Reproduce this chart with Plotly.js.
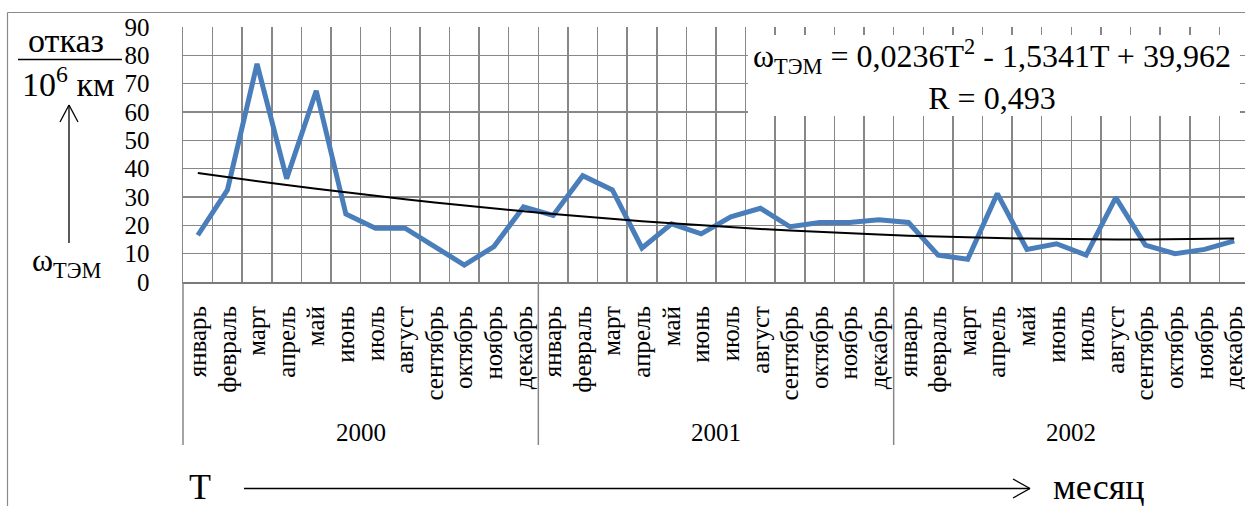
<!DOCTYPE html>
<html>
<head>
<meta charset="utf-8">
<script src="https://cdn.plot.ly/plotly-3.0.1.min.js"></script>
<style>
  html, body { margin: 0; padding: 0; background: #fff; overflow: hidden; }
  #chart { width: 1245px; height: 506px; }
</style>
</head>
<body>
<div id="chart"></div>
<script>
// Monthly failure rate of traction electric motors, 2000–2002
const months = ['январь', 'февраль', 'март', 'апрель', 'май', 'июнь',
                'июль', 'август', 'сентябрь', 'октябрь', 'ноябрь', 'декабрь'];
const years = ['2000', '2001', '2002'];
const failureRate = [
  16.5, 32.5, 77, 36.5, 67.5, 24, 19, 19, 12.5, 6, 12.5, 26.5,
  23.5, 37.5, 32.5, 12, 20.5, 17, 23, 26, 19.5, 21, 21, 22,
  21, 9.5, 8, 31.2, 11.5, 13.5, 9.5, 29.8, 13, 10, 11.5, 14.5
];
// polynomial trend: a*T^2 + b*T + c
const trendCoef = [0.0236, -1.5341, 39.962];
const trendLabel = 'ω<sub>ТЭМ</sub> = 0,0236T<sup>2</sup> - 1,5341T + 39,962<br>R = 0,493';

const FONT = 'Times New Roman, Liberation Serif, DejaVu Serif, serif';
const W = 1245, H = 506;
const M = { l: 183, r: 0, t: 27, b: 224 };
const plotW = W - M.l - M.r, plotH = H - M.t - M.b;
const xRange = [-0.5, 35.365];

// pixel -> paper coordinates
const PX = px => (px - M.l) / plotW;
const PY = py => (H - M.b - py) / plotH;
const XV = v => (v - xRange[0]) / (xRange[1] - xRange[0]);

const idx = failureRate.map((_, i) => i);
const trend = idx.map(i => {
  const T = i + 1;
  return trendCoef[0] * T * T + trendCoef[1] * T + trendCoef[2];
});
const tickText = years.flatMap(() => months);

const GRID = '#878787';

const traces = [
  {
    x: idx, y: failureRate, type: 'scatter', mode: 'lines',
    line: { color: '#4a7ebb', width: 5 }, hoverinfo: 'skip'
  },
  {
    x: idx, y: trend, type: 'scatter', mode: 'lines',
    line: { color: '#000', width: 2 }, hoverinfo: 'skip'
  }
];

const shapes = [];
const line = (x0, y0, x1, y1, color, width) => shapes.push({
  type: 'line', xref: 'paper', yref: 'paper',
  x0: PX(x0), y0: PY(y0), x1: PX(x1), y1: PY(y1),
  line: { color, width }
});

// outer chart frame
line(7.5, 12.5, W + 2, 12.5, '#8a8a8a', 1.2);
line(7.5, 12.5, 7.5, H + 2, '#8a8a8a', 1.2);

// year group dividers under the category axis
for (let k = 0; k <= years.length; k++) {
  const xv = k * months.length - 0.5;
  shapes.push({
    type: 'line', xref: 'paper', yref: 'paper',
    x0: XV(xv), x1: XV(xv), y0: 0, y1: PY(445),
    line: { color: GRID, width: 1.5 }
  });
}

// fraction bar and arrows of the axis captions
line(18, 59.5, 122, 59.5, '#000', 1.5);
line(69, 243, 69, 105, '#000', 1.3);
line(60, 122, 69, 105, '#000', 1.3);
line(78, 122, 69, 105, '#000', 1.3);
line(244, 488.5, 1030, 488.5, '#000', 1.3);
line(1013, 479, 1030, 488.5, '#000', 1.3);
line(1013, 498, 1030, 488.5, '#000', 1.3);

// white panel behind the trend equation
shapes.push({
  type: 'rect', xref: 'paper', yref: 'paper', layer: 'above',
  x0: PX(748), x1: PX(1240), y0: PY(116), y1: PY(35),
  fillcolor: '#fff', line: { width: 0 }
});

const ann = (text, x, y, size, extra) => Object.assign({
  text, xref: 'paper', yref: 'paper', x: PX(x), y: PY(y),
  xanchor: 'center', yanchor: 'middle', showarrow: false,
  font: { family: FONT, size, color: '#000' }
}, extra || {});

const annotations = [
  ann('отказ', 66, 40, 34),
  ann('10<sup>6</sup> км', 68, 82, 34),
  ann('ω<sub>ТЭМ</sub>', 67, 262, 32),
  ann('T', 200, 487, 36),
  ann('месяц', 1098, 487, 36),
  ann(trendLabel, 992, 75, 32, { align: 'center' })
];
years.forEach((yr, k) => {
  annotations.push({
    text: yr, xref: 'paper', yref: 'paper',
    x: XV(k * months.length + (months.length - 1) / 2), y: PY(432),
    xanchor: 'center', yanchor: 'middle', showarrow: false,
    font: { family: FONT, size: 25, color: '#000' }
  });
});

const layout = {
  width: W, height: H,
  margin: M,
  paper_bgcolor: '#fff', plot_bgcolor: '#fff',
  showlegend: false,
  font: { family: FONT, size: 25, color: '#000' },
  xaxis: {
    range: xRange, fixedrange: true,
    tickmode: 'array', tickvals: idx, ticktext: tickText,
    tickangle: -90, ticks: 'outside', ticklen: 12, tickcolor: 'rgba(0,0,0,0)',
    ticklabeloverflow: 'allow',
    tickfont: { family: FONT, size: 25, color: '#000' },
    showgrid: false, zeroline: false,
    showline: true, linecolor: '#7a7a7a', linewidth: 2,
    minor: { tick0: -0.5, dtick: 1, showgrid: true, gridcolor: GRID, gridwidth: 1.5, ticks: '' }
  },
  yaxis: {
    range: [0, 90], fixedrange: true,
    tickmode: 'linear', tick0: 0, dtick: 10,
    ticks: 'outside', ticklen: 27, tickcolor: 'rgba(0,0,0,0)',
    tickfont: { family: FONT, size: 25, color: '#000' },
    showgrid: true, gridcolor: GRID, gridwidth: 1.5,
    zeroline: false, showline: true, linecolor: GRID, linewidth: 1.5
  },
  shapes, annotations
};

Plotly.newPlot('chart', traces, layout, { staticPlot: true, displayModeBar: false });
</script>
</body>
</html>
